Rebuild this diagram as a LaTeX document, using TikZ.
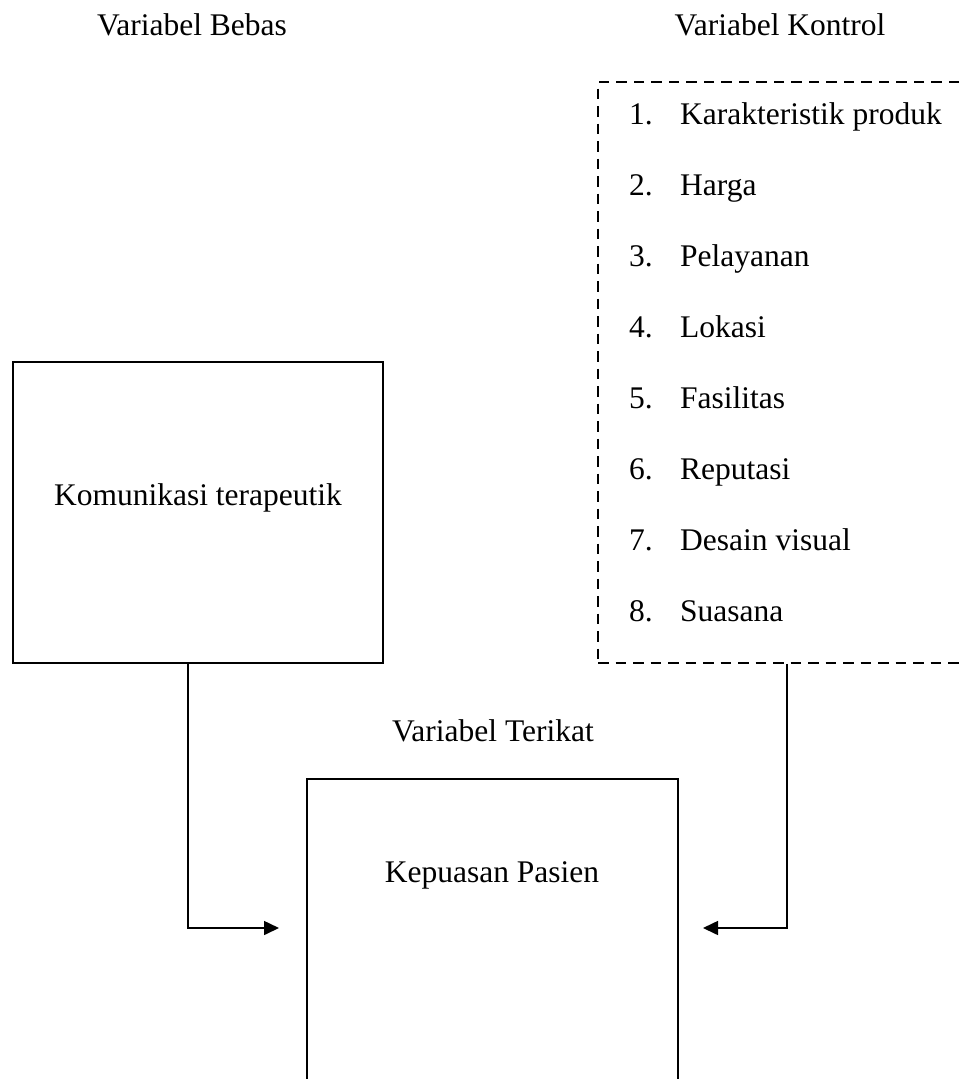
\documentclass[tikz,border=0pt]{standalone}
\usepackage{fontspec}
\setmainfont{Liberation Serif}
\usetikzlibrary{arrows.meta,calc}
\begin{document}
\begin{tikzpicture}[x=1pt,y=-1pt,
  lbl/.style={anchor=base,inner sep=0pt,font=\fontsize{31.5}{38}\selectfont},
  itm/.style={anchor=base west,inner sep=0pt,font=\fontsize{31.5}{38}\selectfont},
  boxline/.style={draw=black,line width=1.6pt},
  ctrl/.style={draw=black,line width=1.6pt,dash pattern=on 10.5pt off 7pt},
  conn/.style={draw=black,line width=1.6pt,-{Triangle[length=15pt,width=14pt]}}]
\useasboundingbox (0,0) rectangle (965,1079);
\clip (0,0) rectangle (965,1079);
\fill[white] (0,0) rectangle (965,1079);
% headings
\node[lbl] (hbebas) at (192,35) {Variabel Bebas};
\node[lbl] (hkontrol) at (780,35) {Variabel Kontrol};
\node[lbl] (hterikat) at (493,741) {Variabel Terikat};
% boxes
\node[boxline,minimum width=370pt,minimum height=301pt,inner sep=0pt] (kom) at (198,512.5) {};
\node[lbl] (komtxt) at (198,505) {Komunikasi terapeutik};
\node[boxline,minimum width=371pt,minimum height=340pt,inner sep=0pt] (kep) at (492.5,949) {};
\node[lbl] (keptxt) at (492,882) {Kepuasan Pasien};
\node[ctrl,minimum width=380pt,minimum height=581pt,inner sep=0pt] (kon) at (788,372.5) {};
% list
\foreach \n/\t [count=\i from 0] in {1/Karakteristik produk,2/Harga,3/Pelayanan,4/Lokasi,5/Fasilitas,6/Reputasi,7/Desain visual,8/Suasana}{
  \node[itm] (num\n) at (629,124+71*\i) {\n.};
  \node[itm] (item\n) at (680,124+71*\i) {\t};
}
% connectors
\coordinate (endL) at (279,928);
\coordinate (endR) at (703,928);
\draw[conn] ([xshift=-10pt]kom.south) |- (endL);
\draw[conn] (kon.south -| 787,0) |- (endR);
\end{tikzpicture}
\end{document}
